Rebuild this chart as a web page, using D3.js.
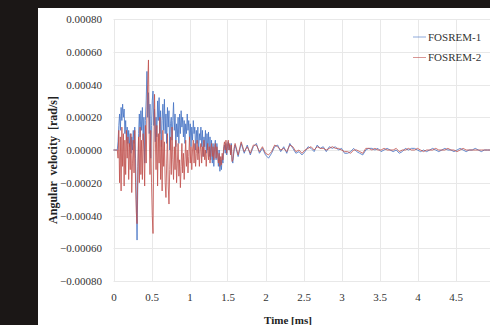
<!DOCTYPE html>
<html>
<head>
<meta charset="utf-8">
<script src="https://cdn.jsdelivr.net/npm/d3@7/dist/d3.min.js"></script>
<style>
  html, body { margin: 0; padding: 0; background: #1b1716; }
  svg { display: block; }
  svg text { font-family: "Liberation Serif", "DejaVu Serif", serif; }
</style>
</head>
<body>
<svg id="chart" width="490" height="325"></svg>
<script>
// ---- DATA (angular velocity values in units of 1e-5 rad/s) ----
const UNIT = 1e-5;
const seriesNames = ["FOSREM-1", "FOSREM-2"];
const xTicks = [0, 0.5, 1, 1.5, 2, 2.5, 3, 3.5, 4, 4.5];
const yTicks = [-0.0008, -0.0006, -0.0004, -0.0002, 0, 0.0002, 0.0004, 0.0006, 0.0008];

// early segment: t = 0 .. 1.60 ms, step 0.01 ms
const earlyStart = 0, earlyStep = 0.01;
const fosrem1Early = [
  0, 0, 0, 0, 0, 0, 5, 15, 22, 12, 26, 18, 28, 20, 25, 10, 18, 6, 14, 4,
  12, 2, 10, -2, 8, 0, 12, 4, 14, -5, -30, -55, -20, 10, 22, 8, 24, 12, 26, 6,
  20, -8, 18, 30, 48, 20, 35, 10, 28, -5, 15, 30, 36, 15, 25, 5, 20, 8, 30, 18,
  32, 10, 24, 2, 18, 28, 12, 31, 10, 22, 4, 26, 14, 24, 0, 16, 20, 6, 18, 29,
  12, 22, 2, 16, 8, 20, 4, 22, 10, 24, 14, 20, 8, 18, 4, 16, 10, 22, 12, 18,
  6, 16, 2, 14, 6, 18, 10, 14, 0, 12, 4, 14, -2, 10, 6, 14, 2, 12, -4, 8,
  2, 12, -2, 10, 0, 11, -4, 8, -6, 6, -8, 4, -10, 2, 6, -6, 4, -2, -10, 0,
  -13, -6, -12, -4, -8, 0, 3, -2, 4, -3, 2, 5, 0, 3, -2, 4, -6, -8, -3, 1,
  3
];
const fosrem2Early = [
  0, 0, 0, 0, 0, 0, -5, 12, -20, 8, -25, 14, -10, 10, -22, 6, -15, 12, -5, 8,
  -18, 4, -12, 10, -26, -8, 6, -14, 12, -20, -38, -45, -10, 8, -20, 14, -15, 6, -18, 10,
  0, -22, 15, -8, 22, 40, 55, 10, -15, 12, -20, -40, -51, 0, 34, 8, -12, 15, -22, 10,
  -8, 20, -18, 6, -25, 12, -10, 5, -20, -29, -8, 10, -22, -33, -12, 8, -15, 14, -6, -18,
  2, -12, 6, -20, -8, 4, -16, -6, -23, -10, 4, -14, -2, -18, -6, 6, -10, 0, -14, -4,
  8, -8, 2, -12, 0, 6, -8, 4, -10, -2, 6, -6, 2, -10, 0, 4, -8, 2, -4, 6,
  -6, 0, -10, -2, 4, -6, 2, -8, 0, 4, -4, 2, -6, 0, 4, -5, 2, -3, -8, -2,
  -10, -4, -9, -2, -6, 2, 5, 0, 6, -2, 3, 6, 0, 4, -3, 3, -7, -6, -2, 2,
  4
];

// late segment: t = 1.64 .. 4.96 ms, step 0.04 ms
const lateStart = 1.64, lateStep = 0.04;
const fosrem1Late = [
  -4, 4, -2, 3, -3, 2, 4, -2, 1, -3, -5, -2, 2, 3, -1, 2, -2, 4, 1, -2,
  -1, -3, -1, 2, 1, -1, 3, 1, 2, -1, 2, 1, 2, 0, 1, -2, -2, -1, 1, -1,
  -2, -3, 0, 1, 1, 0, 1, -1, 0, 1, 0, -1, 0, -2, -1, 1, 0, 1, 1, 0,
  -1, 0, -1, 0, 1, 0, -1, 0, 1, 0, 0, -1, 0, 1, 0, -1, 0, 0, 1, 0,
  -1, 0, 0, 0
];
const fosrem2Late = [
  -3, 5, -1, 2, -2, 3, 3, -1, 2, -2, -3, -1, 3, 2, 0, 1, -1, 3, 2, -1,
  0, -2, 0, 1, 2, 0, 2, 1, 1, 0, 1, 2, 1, 1, 0, -1, -1, -2, 0, 0,
  -1, -2, 1, 1, 0, 1, 0, 0, 1, 0, 0, 0, 1, -1, 0, 0, 1, 0, 0, 1,
  0, -1, 0, 0, 0, 1, 0, 0, 0, 1, 0, 0, -1, 0, 1, 0, 0, 0, 0, 0,
  0, 0, 0, 0
];

// ---- BUILD ----
function buildSeries(early, late) {
  const pts = early.map((v, i) => ({ t: earlyStart + i * earlyStep, v: v * UNIT }));
  late.forEach((v, i) => pts.push({ t: lateStart + i * lateStep, v: v * UNIT }));
  return pts;
}
const data = [
  { name: seriesNames[0], color: "#4472c4", values: buildSeries(fosrem1Early, fosrem1Late) },
  { name: seriesNames[1], color: "#c0504d", values: buildSeries(fosrem2Early, fosrem2Late) }
];

const svg = d3.select("#chart");
const W = 490, H = 325;
svg.append("rect").attr("x", 38).attr("y", 8).attr("width", W - 38).attr("height", H - 8).attr("fill", "#ffffff");

const x = d3.scaleLinear().domain([0, 5]).range([113.5, 493.5]);
const y = d3.scaleLinear().domain([-0.0008, 0.0008]).range([281, 19]);

const font = "Liberation Serif, DejaVu Serif, serif";

// gridlines
const grid = svg.append("g");
grid.selectAll(".hg").data(yTicks).enter().append("line")
  .attr("x1", x(0)).attr("x2", W)
  .attr("y1", d => Math.round(y(d)) + 0.5).attr("y2", d => Math.round(y(d)) + 0.5)
  .attr("stroke", "#e8e8e8").attr("stroke-width", 1);
grid.selectAll(".vg").data(xTicks).enter().append("line")
  .attr("x1", d => Math.round(x(d)) + 0.5).attr("x2", d => Math.round(x(d)) + 0.5)
  .attr("y1", y(0.0008)).attr("y2", y(-0.0008))
  .attr("stroke", "#e8e8e8").attr("stroke-width", 1);

// y axis labels
const fmtY = v => (v < 0 ? "\u2212" : "") + Math.abs(v).toFixed(5);
const yAxis = d3.axisLeft(y).tickValues(yTicks).tickFormat(fmtY).tickSize(0).tickPadding(0);
const gy = svg.append("g").attr("transform", "translate(102,0)").call(yAxis);
gy.attr("font-family", null).attr("font-size", null);
gy.select(".domain").remove();
gy.selectAll("text").style("font-family", font).style("font-size", "11px").attr("fill", "#333");

// x axis labels
const xAxis = d3.axisBottom(x).tickValues(xTicks).tickFormat(d => String(d)).tickSize(0).tickPadding(0);
const gx = svg.append("g").attr("transform", "translate(0,293)").call(xAxis);
gx.attr("font-family", null).attr("font-size", null);
gx.select(".domain").remove();
gx.selectAll("text").style("font-family", font).style("font-size", "11px").attr("fill", "#333");

// axis titles
svg.append("text").attr("x", 288).attr("y", 324).attr("text-anchor", "middle")
  .style("font-family", font).style("font-size", "11px").style("font-weight", "bold").attr("fill", "#222")
  .text("Time [ms]");
svg.append("text").attr("transform", "translate(57,160) rotate(-90)").attr("text-anchor", "middle")
  .style("font-family", font).style("font-size", "12px").style("font-weight", "bold").attr("fill", "#222")
  .style("word-spacing", "3px")
  .text("Angular velocity [rad/s]");

// lines
const line = d3.line().x(d => x(d.t)).y(d => y(d.v));
const plot = svg.append("g");
data.forEach(s => {
  plot.append("path").datum(s.values).attr("d", line)
    .attr("fill", "none").attr("stroke", s.color).attr("stroke-width", 0.9)
    .attr("stroke-opacity", 0.9).attr("stroke-linejoin", "round");
});

// legend
const lg = svg.append("g");
data.forEach((s, i) => {
  const ly = 37 + i * 20.5;
  lg.append("line").attr("x1", 413).attr("x2", 426).attr("y1", ly).attr("y2", ly)
    .attr("stroke", s.color).attr("stroke-width", 1).attr("stroke-opacity", 0.6);
  lg.append("text").attr("x", 428).attr("y", ly + 3.8)
    .style("font-family", font).style("font-size", "11px").attr("fill", "#333").text(s.name);
});
</script>
</body>
</html>
